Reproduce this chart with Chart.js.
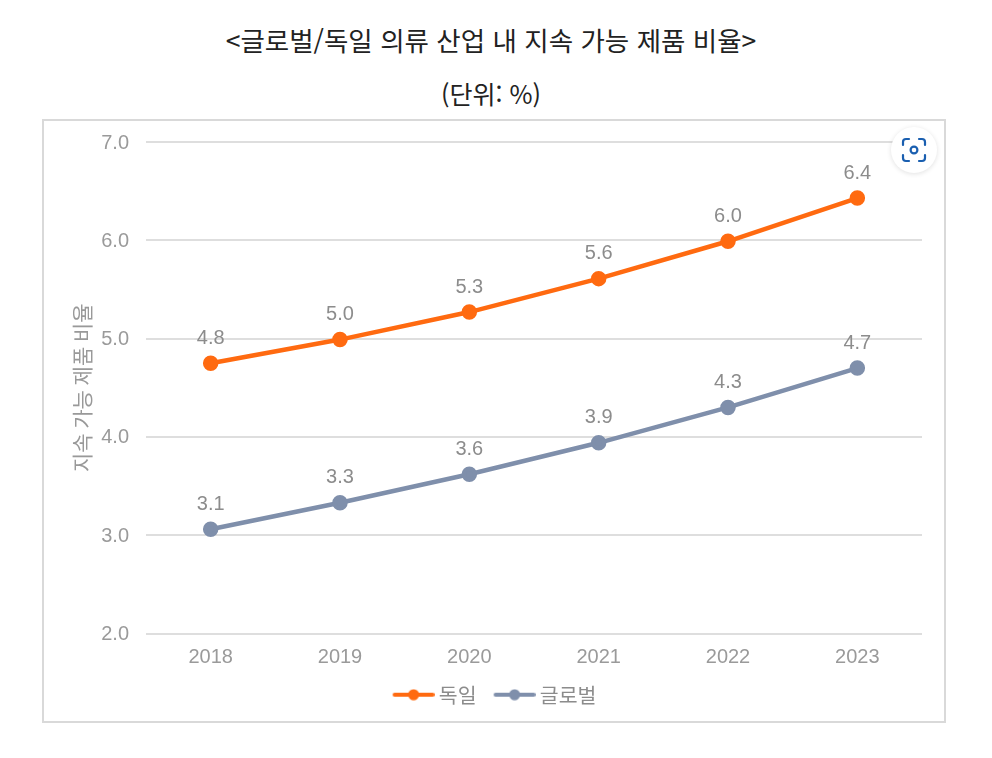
<!DOCTYPE html>
<html lang="ko">
<head>
<meta charset="utf-8">
<title>글로벌/독일 의류 산업 내 지속 가능 제품 비율</title>
<script src="https://cdn.jsdelivr.net/npm/chart.js@4"></script>
<style>
  html, body { margin: 0; background: #fff; }
  body { width: 992px; height: 758px; position: relative; overflow: hidden; font-family: "Noto Sans CJK KR", "Noto Sans", sans-serif; color: #222; }
  .title { position: absolute; left: 0; width: 982px; text-align: center; line-height: 34px; white-space: nowrap; }
  #t1 { top: 23px; font-size: 26.5px; }
  #t2 { top: 76px; font-size: 25px; }
  #panel { position: absolute; left: 42px; top: 119px; width: 900px; height: 600px; border: 2px solid #d9d9d9; }
  #chartBox { position: absolute; left: 0; top: 0; width: 900px; height: 600px; filter: blur(0.4px); }
  #lens { position: absolute; left: 891px; top: 127px; width: 46px; height: 46px; border-radius: 50%; background: #fff; box-shadow: 0 1px 5px rgba(0,0,0,0.12); }
  #lens svg { position: absolute; left: 10px; top: 10px; }
</style>
</head>
<body>
<div class="title" id="t1">&lt;글로벌/독일 의류 산업 내 지속 가능 제품 비율&gt;</div>
<div class="title" id="t2">(단위: %)</div>
<div id="panel"><div id="chartBox"><canvas id="myChart"></canvas></div></div>
<div id="lens">
  <svg width="26" height="26" viewBox="0 0 26 26" fill="none" stroke="#1a5fb0" stroke-width="2.2" stroke-linecap="round">
    <path d="M2 8V5a3 3 0 0 1 3-3h3M18 2h3a3 3 0 0 1 3 3v3M24 18v3a3 3 0 0 1-3 3h-3M8 24H5a3 3 0 0 1-3-3v-3"/>
    <circle cx="13" cy="13" r="3.4"/>
  </svg>
</div>
<script>
const years = ['2018', '2019', '2020', '2021', '2022', '2023'];
const germany = [4.75, 4.99, 5.27, 5.61, 5.99, 6.43];
const globalShare = [3.06, 3.33, 3.62, 3.94, 4.30, 4.70];
const yTicks = [2, 3, 4, 5, 6, 7];

const ORANGE = '#ff6a10';
const SLATE = '#7f8fab';
const NUM_FONT = '"Liberation Sans", "Noto Sans CJK KR", sans-serif';

// line + dot swatch for the legend, empty on the left so the items sit apart
function swatch(color) {
    const c = document.createElement('canvas');
    c.width = 59;
    c.height = 12;
    const g = c.getContext('2d');
    g.strokeStyle = color;
    g.fillStyle = color;
    g.lineWidth = 4;
    g.lineCap = 'round';
    g.beginPath();
    g.moveTo(19, 6);
    g.lineTo(57, 6);
    g.stroke();
    g.beginPath();
    g.arc(38, 6, 5.5, 0, Math.PI * 2);
    g.fill();
    return c;
}

// value labels above each point
const valueLabels = {
    id: 'valueLabels',
    afterDatasetsDraw(chart) {
        const ctx = chart.ctx;
        ctx.save();
        ctx.font = '20px ' + NUM_FONT;
        ctx.fillStyle = '#8c8c8c';
        ctx.textAlign = 'center';
        ctx.textBaseline = 'middle';
        chart.data.datasets.forEach((ds, i) => {
            chart.getDatasetMeta(i).data.forEach((pt, j) => {
                ctx.fillText(ds.data[j].toFixed(1), pt.x, pt.y - 25);
            });
        });
        ctx.restore();
    }
};

// the legend row sits a little right of the canvas centre
const nudgeLegend = {
    id: 'nudgeLegend',
    afterLayout(chart) {
        chart.legend.left += 12;
    }
};

const ctx = document.getElementById('myChart').getContext('2d');
new Chart(ctx, {
    type: 'line',
    data: {
        labels: years,
        datasets: [
            {
                label: '독일',
                data: germany,
                borderColor: ORANGE,
                backgroundColor: ORANGE,
                borderWidth: 4.5,
                pointRadius: 5.5,
                pointHoverRadius: 5.5,
                pointStyle: 'circle',
                tension: 0
            },
            {
                label: '글로벌',
                data: globalShare,
                borderColor: SLATE,
                backgroundColor: SLATE,
                borderWidth: 4.5,
                pointRadius: 5.5,
                pointHoverRadius: 5.5,
                pointStyle: 'circle',
                tension: 0
            }
        ]
    },
    options: {
        responsive: true,
        maintainAspectRatio: false,
        animation: false,
        layout: { padding: { top: 21, right: 22, bottom: 6, left: 0 } },
        plugins: {
            tooltip: { enabled: false },
            legend: {
                position: 'bottom',
                labels: {
                    usePointStyle: true,
                    pointStyleWidth: 47,
                    boxHeight: 12,
                    padding: 6,
                    color: '#8c8c8c',
                    font: { family: '"Noto Sans CJK KR", sans-serif', size: 20.5 },
                    generateLabels(chart) {
                        return chart.data.datasets.map((ds, i) => ({
                            text: ds.label,
                            fontColor: '#8c8c8c',
                            pointStyle: swatch(ds.borderColor),
                            lineWidth: 0,
                            datasetIndex: i
                        }));
                    }
                }
            }
        },
        scales: {
            x: {
                offset: true,
                grid: { display: false },
                border: { display: false },
                ticks: {
                    padding: 4,
                    color: '#9a9a9a',
                    maxRotation: 0,
                    font: { family: NUM_FONT, size: 20 }
                },
                afterFit(axis) { axis.height = 45; }
            },
            y: {
                min: 2,
                max: 7,
                afterBuildTicks(axis) { axis.ticks = yTicks.map(v => ({ value: v })); },
                grid: { color: '#dedede', lineWidth: 2, drawTicks: false },
                border: { display: false },
                ticks: {
                    padding: 17,
                    labelOffset: 1,
                    color: '#9a9a9a',
                    callback: v => v.toFixed(1),
                    font: { family: NUM_FONT, size: 20 }
                },
                title: {
                    display: true,
                    text: '지속 가능 제품 비율',
                    color: '#999999',
                    padding: { top: 25, bottom: 0 },
                    font: { family: '"Noto Sans CJK KR", sans-serif', size: 21 }
                },
                afterFit(axis) {
                    axis.width = 102;
                    axis.paddingTop = 0;
                    axis.paddingBottom = 0;
                }
            }
        }
    },
    plugins: [valueLabels, nudgeLegend]
});
</script>
</body>
</html>
